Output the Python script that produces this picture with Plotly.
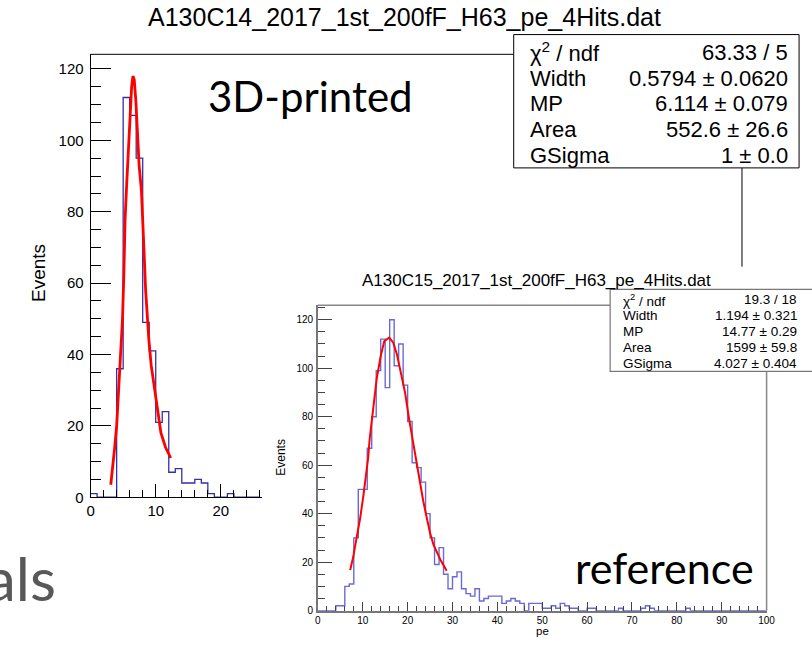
import plotly.graph_objects as go

W, H = 812, 645

# ---- data -------------------------------------------------------------
# 3D-printed counter, photo-electron spectrum (1 pe bins starting at 0)
left_counts = [1, 0, 0, 0, 36, 112, 107, 95, 49, 41, 21, 24, 7, 8, 4, 4,
               5, 4, 1, 0, 0, 1, 0, 0, 0, 0]

# reference counter, photo-electron spectrum (1 pe bins, 0-100)
right_counts = [0, 0, 0, 0, 2, 2, 10, 11, 30, 50, 50, 67, 80, 99, 112, 92,
                120, 101, 110, 93, 78, 61, 59, 53, 40, 30, 19, 26, 15, 9, 14, 16,
                9, 7, 6, 9, 4, 5, 6, 6, 6, 3, 4, 5, 4, 3, 0, 3, 3, 3,
                1, 1, 2, 1, 3, 2, 1, 1, 0, 0, 1, 1, 0, 0, 0, 0, 0, 1, 0, 0,
                0, 0, 1, 2, 1, 0, 0, 0, 0, 0, 0, 0, 1, 0, 0, 0, 0, 0, 0, 0,
                0, 0, 0, 0, 0, 0, 0, 0, 0, 0]

# Landau (x) Gauss fit curves
left_fit_x = [3.1, 3.4, 3.7, 4.0, 4.3, 4.6, 4.9, 5.1, 5.3, 5.55, 5.8, 6.05,
              6.3, 6.5, 6.7, 6.95, 7.2, 7.45, 7.8, 8.05, 8.25, 8.45, 8.7,
              8.95, 9.3, 9.8, 10.3, 10.8, 11.5, 12.3]
left_fit_y = [3.5, 8, 14, 20, 30, 40, 50, 62, 78, 88, 98, 107, 115, 118, 117,
              111, 102, 93, 86, 77, 67, 58, 50, 44, 37, 30.5, 24, 18, 14, 11]

right_fit_x = [7.2, 7.9, 8.6, 9.35, 10.1, 10.7, 11.2, 11.55, 12.3, 13.1, 14.0,
               14.8, 15.9, 16.8, 17.6, 18.5, 19.4, 20.3, 21.3, 22.1, 22.8,
               23.5, 24.3, 25.0, 25.8, 26.5, 27.3, 28.7]
right_fit_y = [16.7, 22.4, 29.8, 37.3, 46.8, 56, 63, 71, 83.4, 95.6, 105,
               111.2, 112.6, 110.5, 105.8, 98.3, 90.2, 79.3, 68.5, 60, 52,
               45, 38, 32, 27, 24, 21, 16.5]

left_title = "A130C14_2017_1st_200fF_H63_pe_4Hits.dat"
right_title = "A130C15_2017_1st_200fF_H63_pe_4Hits.dat"

left_stat_names = ["χ<sup>2</sup> / ndf", "Width", "MP", "Area", "GSigma"]
left_stat_values = ["63.33 / 5", "0.5794 ± 0.0620", "6.114 ± 0.079",
                    "552.6 ± 26.6", "1 ± 0.0"]
right_stat_names = ["χ<sup>2</sup> / ndf", "Width", "MP", "Area", "GSigma"]
right_stat_values = ["19.3 / 18", "1.194 ± 0.321", "14.77 ± 0.29",
                     "1599 ± 59.8", "4.027 ± 0.404"]

left_yticks = [0, 20, 40, 60, 80, 100, 120]
left_xticks = [0, 10, 20]
right_yticks = [0, 20, 40, 60, 80, 100, 120]
right_xticks = [0, 10, 20, 30, 40, 50, 60, 70, 80, 90, 100]


# ---- helpers ----------------------------------------------------------
def px(x):
    return x / W


def py(y):
    return 1 - y / H


def steps(counts, start=0.0, width=1.0):
    xs, ys = [], []
    for i, c in enumerate(counts):
        xs += [start + i * width, start + (i + 1) * width]
        ys += [c, c]
    return xs, ys


HELV = "Liberation Sans"
SLIDE = "Lato"

fig = go.Figure()

lx, ly = steps(left_counts)
fig.add_trace(go.Scatter(x=lx, y=ly, mode="lines", xaxis="x", yaxis="y",
                         line=dict(color="#3030a8", width=1.3),
                         hoverinfo="skip", showlegend=False))
fig.add_trace(go.Scatter(x=left_fit_x, y=left_fit_y, mode="lines",
                         xaxis="x", yaxis="y", line=dict(color="#ff0000", width=2.8),
                         hoverinfo="skip", showlegend=False))

rx, ry = steps(right_counts)
fig.add_trace(go.Scatter(x=rx, y=ry, mode="lines", xaxis="x2", yaxis="y2",
                         line=dict(color="#6a6ad6", width=1.4),
                         hoverinfo="skip", showlegend=False))
fig.add_trace(go.Scatter(x=right_fit_x, y=right_fit_y, mode="lines",
                         xaxis="x2", yaxis="y2", line=dict(color="#ff0000", width=2.0),
                         hoverinfo="skip", showlegend=False))

# left pad: only the part left of the inset is visible (scale 0-100 over 88-750 px)
left_xmax = (262 - 88) / ((750 - 88) / 100.0)

axis_common = dict(showgrid=False, zeroline=False, showline=True,
                   ticks="inside", fixedrange=True)

fig.update_layout(
    width=W, height=H, autosize=False,
    margin=dict(l=0, r=0, t=0, b=0, pad=0),
    paper_bgcolor="white", plot_bgcolor="rgba(0,0,0,0)",
    xaxis=dict(domain=[px(88), px(262)], range=[0, left_xmax], anchor="y",
               linecolor="black", linewidth=1, tickcolor="black", tickwidth=1,
               ticklen=13, tickvals=left_xticks,
               minor=dict(dtick=2, tick0=0, ticklen=7, ticks="inside",
                          tickcolor="black", tickwidth=1),
               tickfont=dict(family=HELV, size=15, color="black"),
               **axis_common),
    yaxis=dict(domain=[py(503.5), py(55)], range=[0, 124.1], anchor="x",
               linecolor="black", linewidth=1, tickcolor="black", tickwidth=1,
               ticklen=20, tickvals=left_yticks, ticklabelstandoff=3,
               minor=dict(dtick=5, tick0=0, ticklen=10, ticks="inside",
                          tickcolor="black", tickwidth=1),
               tickfont=dict(family=HELV, size=15, color="black"),
               **axis_common),
    xaxis2=dict(domain=[px(319), px(775)], range=[0, 100], anchor="y2",
                linecolor="#777", linewidth=1.5, tickcolor="#444", tickwidth=1,
                ticklen=9, tickvals=right_xticks,
                minor=dict(dtick=2, tick0=0, ticklen=4.5, ticks="inside",
                           tickcolor="#444", tickwidth=1),
                tickfont=dict(family=HELV, size=10, color="black"),
                **axis_common),
    yaxis2=dict(domain=[py(618.3), py(309)], range=[0, 126], anchor="x2",
                linecolor="#777", linewidth=1.5, tickcolor="#444", tickwidth=1,
                ticklen=14, tickvals=right_yticks, ticklabelstandoff=1,
                minor=dict(dtick=5, tick0=0, ticklen=7, ticks="inside",
                           tickcolor="#444", tickwidth=1),
                tickfont=dict(family=HELV, size=10, color="black"),
                **axis_common),
)

shapes = []
# remaining frame edges of the left pad
shapes.append(dict(type="line", xref="paper", yref="paper", x0=px(88), x1=px(518),
                   y0=py(55), y1=py(55), line=dict(color="black", width=1)))
shapes.append(dict(type="line", xref="paper", yref="paper", x0=px(750), x1=px(750),
                   y0=py(170), y1=py(270), line=dict(color="black", width=1)))
# remaining frame edges of the reference pad
shapes.append(dict(type="line", xref="paper", yref="paper", x0=px(319), x1=px(616),
                   y0=py(309), y1=py(309), line=dict(color="#888", width=1.5)))
shapes.append(dict(type="line", xref="paper", yref="paper", x0=px(775), x1=px(775),
                   y0=py(376), y1=py(618.3), line=dict(color="#888", width=1.5)))
# statistics boxes
shapes.append(dict(type="rect", xref="paper", yref="paper", layer="above",
                   x0=px(518), x1=px(808), y0=py(35), y1=py(170),
                   fillcolor="white", line=dict(color="black", width=1)))
shapes.append(dict(type="rect", xref="paper", yref="paper", layer="above",
                   x0=px(616), x1=px(830), y0=py(293), y1=py(376),
                   fillcolor="white", line=dict(color="#777", width=1.2)))

ann = []


def text(x, y, s, size, family=HELV, color="black", xanchor="center",
         angle=0):
    ann.append(dict(x=px(x), y=py(y), xref="paper", yref="paper", text=s,
                    showarrow=False, xanchor=xanchor, yanchor="middle",
                    textangle=angle,
                    font=dict(family=family, size=size, color=color)))


text(407, 17.5, left_title, 25)
text(541, 284, right_title, 17)

for i, (n, v) in enumerate(zip(left_stat_names, left_stat_values)):
    yy = 53 + 26 * i
    text(533, yy, n, 22, xanchor="left")
    text(799, yy, v, 22, xanchor="right")

for i, (n, v) in enumerate(zip(right_stat_names, right_stat_values)):
    yy = 303.3 + 16.1 * i
    text(627, yy, n, 13.5, xanchor="left")
    text(808, yy, v, 13.5, xanchor="right")

text(35, 276, "Events", 19, angle=-90)
text(282, 463, "Events", 12, angle=-90)
text(547, 639, "pe", 11.5)

text(311, 97, "3D-printed", 42, family=SLIDE)
text(671, 575, "reference", 43, family=SLIDE)
text(55, 585, "als", 60, family=SLIDE, color="#595959", xanchor="right")

fig.update_layout(shapes=shapes, annotations=ann)

# keep the page exactly the size of the figure
page_css = ("document.documentElement.style.margin='0';"
            "document.body.style.margin='0';"
            "document.body.style.overflow='hidden';"
            "document.documentElement.style.overflow='hidden';")

fig.write_html("out.html", post_script=page_css)
